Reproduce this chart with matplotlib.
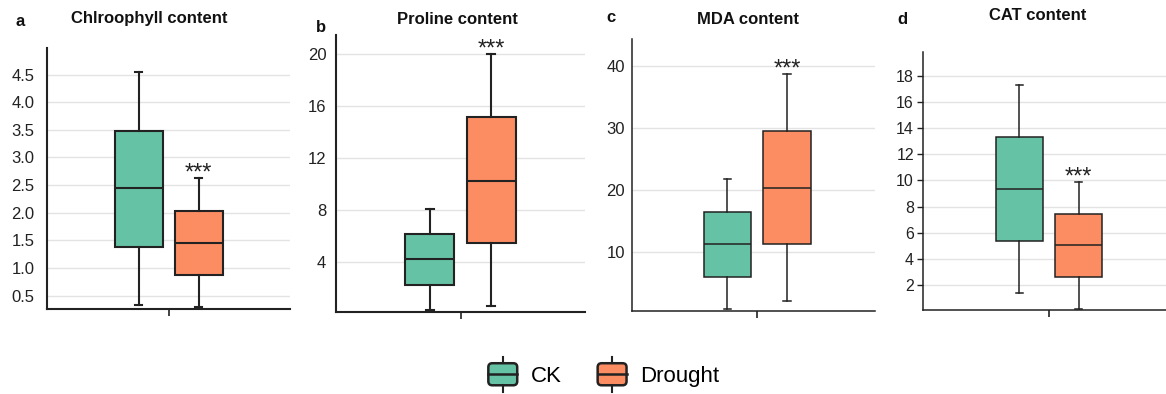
"""Box plots of physiological traits under CK vs drought."""

import matplotlib

matplotlib.use("Agg")
import matplotlib.pyplot as plt
from matplotlib.legend_handler import HandlerBase
from matplotlib.lines import Line2D
from matplotlib.patches import FancyBboxPatch, Patch

plt.rcParams["font.family"] = ["Liberation Sans", "DejaVu Sans"]

W, H = 1166, 394

groups = ["CK", "Drought"]
colors = ["#66C2A5", "#FC8D62"]

titles = ["Chlroophyll content", "Proline content", "MDA content", "CAT content"]
letters = ["a", "b", "c", "d"]

# five-number summaries, one entry per panel
ck_whislo = [0.34, 0.31, 0.68, 1.41]
ck_q1 = [1.39, 2.23, 5.95, 5.39]
ck_med = [2.44, 4.23, 11.2, 9.34]
ck_q3 = [3.485, 6.13, 16.47, 13.32]
ck_whishi = [4.55, 8.05, 21.76, 17.27]

dr_whislo = [0.29, 0.62, 2.02, 0.19]
dr_q1 = [0.875, 5.44, 11.2, 2.63]
dr_med = [1.455, 10.25, 20.36, 5.04]
dr_q3 = [2.04, 15.13, 29.5, 7.43]
dr_whishi = [2.63, 20.0, 38.75, 9.87]

signif = ["***", "***", "***", "***"]

yticks = [
    [0.5, 1.0, 1.5, 2.0, 2.5, 3.0, 3.5, 4.0, 4.5],
    [4, 8, 12, 16, 20],
    [10, 20, 30, 40],
    [2, 4, 6, 8, 10, 12, 14, 16, 18],
]
ylims = [(0.26, 4.98), (0.15, 21.46), (0.4, 44.4), (0.09, 19.83)]
tick_fmt = ["{:.1f}", "{:d}", "{:d}", "{:d}"]

# axes boxes in pixels: left, right, top, bottom
ax_px = [(47, 290, 48, 309), (336, 585, 35, 312), (632, 875, 39, 311), (923, 1166, 52, 310)]
xlims = [(-0.81, 0.81), (-0.81, 0.81), (-0.84, 0.79), (-0.85, 0.79)]
label_pad = [9.0, 7.0, 5.0, 2.0]
tick_len = [0, 0, 0, 4.5]
tick_size = [12, 12, 12, 11.5]
lw = [1.5, 1.5, 1.1, 1.1]

title_px = [(149, 19), (457, 20), (748, 19), (1038, 15)]
letter_px = [(20, 21), (321, 27), (611, 18), (902, 20)]


class BoxHandler(HandlerBase):
    def create_artists(self, legend, orig_handle, xdescent, ydescent,
                       width, height, fontsize, trans):
        x0, y0 = -xdescent, -ydescent
        box = FancyBboxPatch((x0, y0), width, height,
                             boxstyle=f"round,pad=0,rounding_size={height * 0.18}",
                             facecolor=orig_handle.get_facecolor(),
                             edgecolor="#222222", linewidth=1.8, transform=trans)
        xm = x0 + width / 2
        med = Line2D([x0, x0 + width], [y0 + height / 2] * 2, color="#222222",
                     linewidth=1.8, transform=trans)
        top = Line2D([xm, xm], [y0 + height, y0 + height * 1.3], color="#222222",
                     linewidth=1.5, transform=trans)
        bot = Line2D([xm, xm], [y0, y0 - height * 0.3], color="#222222",
                     linewidth=1.5, transform=trans)
        return [box, med, top, bot]


fig = plt.figure(figsize=(W / 100, H / 100), dpi=100)

for i in range(4):
    left, right, top, bottom = ax_px[i]
    ax = fig.add_axes([left / W, 1 - bottom / H, (right - left) / W, (bottom - top) / H])

    stats = [
        dict(whislo=ck_whislo[i], q1=ck_q1[i], med=ck_med[i], q3=ck_q3[i],
             whishi=ck_whishi[i], fliers=[]),
        dict(whislo=dr_whislo[i], q1=dr_q1[i], med=dr_med[i], q3=dr_q3[i],
             whishi=dr_whishi[i], fliers=[]),
    ]
    line = dict(color="#222222", linewidth=lw[i])
    bp = ax.bxp(stats, positions=[-0.2, 0.2], widths=0.32, capwidths=0.05,
                patch_artist=True, showfliers=False,
                boxprops=dict(edgecolor="#222222", linewidth=lw[i]),
                medianprops=line, whiskerprops=line, capprops=line, zorder=3)
    for patch, c in zip(bp["boxes"], colors):
        patch.set_facecolor(c)

    ax.annotate(signif[i], (0.2, dr_whishi[i]), xytext=(0, -1), textcoords="offset points",
                ha="center", va="baseline", fontsize=17, color="#222222", zorder=4)

    ax.set_xlim(*xlims[i])
    ax.set_ylim(*ylims[i])
    ax.set_xticks([0])
    ax.set_xticklabels([""])
    ax.set_yticks(yticks[i])
    ax.set_yticklabels([tick_fmt[i].format(t) for t in yticks[i]])
    ax.tick_params(axis="y", length=tick_len[i], width=1.0, pad=label_pad[i],
                   labelsize=tick_size[i], colors="#222222")
    ax.tick_params(axis="x", length=5, width=1.2, colors="#222222")
    ax.grid(axis="y", color="#e3e3e3", linewidth=1.0, zorder=0)
    ax.set_axisbelow(True)
    for side in ("top", "right"):
        ax.spines[side].set_visible(False)
    for side in ("left", "bottom"):
        ax.spines[side].set_linewidth(lw[i])
        ax.spines[side].set_color("#222222")

    tx, ty = title_px[i]
    fig.text(tx / W, 1 - ty / H, titles[i], ha="center", va="center",
             fontsize=12, fontweight="bold", color="#111111")
    lx, ly = letter_px[i]
    fig.text(lx / W, 1 - ly / H, letters[i], ha="center", va="center",
             fontsize=12, fontweight="bold", color="#111111")

handles = [Patch(facecolor=c, label=g) for g, c in zip(groups, colors)]
fig.legend(handles=handles, handler_map={Patch: BoxHandler()},
           loc="center", bbox_to_anchor=(604 / W, 1 - 375 / H), ncol=2,
           frameon=False, fontsize=16, handlelength=1.3, handleheight=1.15,
           handletextpad=0.63, columnspacing=1.6)

fig.savefig("out.png", dpi=100)
